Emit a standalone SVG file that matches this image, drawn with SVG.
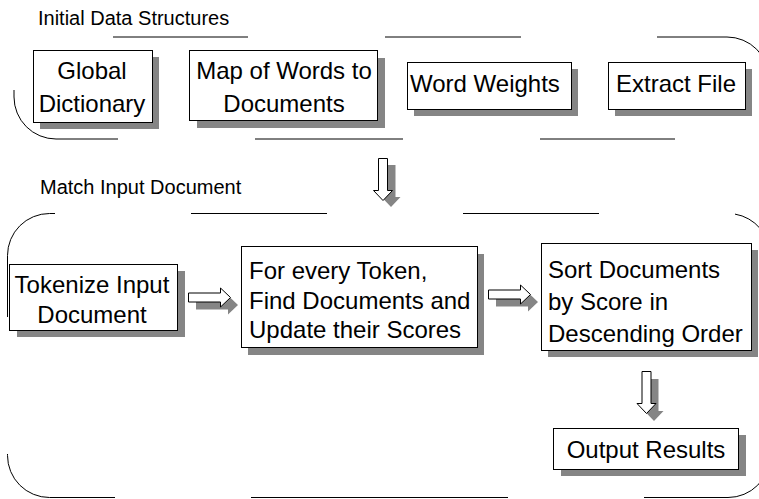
<svg xmlns="http://www.w3.org/2000/svg" xmlns:xlink="http://www.w3.org/1999/xlink" width="759" height="499" viewBox="0 0 759 499">
<defs>
<style>
text{font-family:"Liberation Sans",Arial,Helvetica,sans-serif;fill:#000}
.lbl{font-size:20px}
.nt{font-size:24px}
.box{fill:#fff;stroke:#000;stroke-width:1}
.sh{fill:#858585;stroke:none}
.cont{fill:none;stroke:#000;stroke-width:1}
.arr{fill:#fff;stroke:#000;stroke-width:1}
</style>
<path id="ar" d="M0 -4.5 H32 V-9.5 L42 0 L32 9.5 V4.5 H0 Z"/>
<path id="ad" d="M4.5 0 V32 H9.5 L0 42 L-9.5 32 H-4.5 V0 Z"/>
</defs>
<rect width="759" height="499" fill="#fff"/>

<g id="container-initial" class="cont">
<path d="M113 37 H248"/>
<path d="M385 37 H521"/>
<path d="M657 37 H727 A42 42 0 0 1 769 79"/>
<path d="M14 90 V97 A42 42 0 0 0 56 139 H118"/>
<path d="M255 139 H403"/>
<path d="M540 139 H675"/>
</g>
<text class="lbl" x="38" y="25">Initial Data Structures</text>

<g id="container-match" class="cont">
<path d="M7.5 317 V255.5 A42 42 0 0 1 49.5 213.5 H55"/>
<path d="M191 213.5 H327"/>
<path d="M463 213.5 H599"/>
<path d="M735 214.1 A42 42 0 0 1 770 255.5"/>
<path d="M115 497.5 H49.5 A42 42 0 0 1 7.5 455.5 V454"/>
<path d="M251 497.5 H508"/>
<path d="M644 497.5 H728 A42 42 0 0 0 770 455.5"/>
</g>
<text class="lbl" x="40" y="194">Match Input Document</text>

<g id="global-dictionary">
<rect class="sh" x="40" y="57" width="119" height="72"/>
<rect class="box" x="33.5" y="50.5" width="119" height="72"/>
<text class="nt" x="92" y="79" text-anchor="middle">Global</text>
<text class="nt" x="92" y="112" text-anchor="middle">Dictionary</text>
</g>

<g id="map-words-documents">
<rect class="sh" x="197" y="58" width="188" height="70"/>
<rect class="box" x="189.5" y="50.5" width="188" height="70"/>
<text class="nt" x="284" y="79" text-anchor="middle">Map of Words to</text>
<text class="nt" x="284" y="112" text-anchor="middle">Documents</text>
</g>

<g id="word-weights">
<rect class="sh" x="414" y="69" width="164" height="47"/>
<rect class="box" x="407.5" y="62.5" width="164" height="47"/>
<text class="nt" x="410" y="92">Word Weights</text>
</g>

<g id="extract-file">
<rect class="sh" x="615" y="69" width="137" height="47"/>
<rect class="box" x="608.5" y="62.5" width="137" height="47"/>
<text class="nt" x="676" y="92" text-anchor="middle">Extract File</text>
</g>

<g id="tokenize">
<rect class="sh" x="17" y="271" width="168" height="66"/>
<rect class="box" x="9.5" y="264.5" width="168" height="66"/>
<text class="nt" x="92" y="293" text-anchor="middle">Tokenize Input</text>
<text class="nt" x="92" y="323" text-anchor="middle">Document</text>
</g>

<g id="find-documents">
<rect class="sh" x="248" y="254" width="236" height="101"/>
<rect class="box" x="241.5" y="246.5" width="236" height="101"/>
<text class="nt" x="249" y="279">For every Token,</text>
<text class="nt" x="249" y="309">Find Documents and</text>
<text class="nt" x="249" y="338">Update their Scores</text>
</g>

<g id="sort-documents">
<rect class="sh" x="548" y="250" width="210" height="107"/>
<rect class="box" x="541.5" y="243.5" width="210" height="107"/>
<text class="nt" x="548" y="278">Sort Documents</text>
<text class="nt" x="548" y="310">by Score in</text>
<text class="nt" x="548" y="342">Descending Order</text>
</g>

<g id="output-results">
<rect class="sh" x="561" y="435" width="185" height="41"/>
<rect class="box" x="553.5" y="428.5" width="185" height="41"/>
<text class="nt" x="646" y="458" text-anchor="middle">Output Results</text>
</g>

<g id="connectors">
<use xlink:href="#ad" href="#ad" class="sh" transform="translate(391,165)"/>
<use xlink:href="#ad" href="#ad" class="arr" transform="translate(383,158.5)"/>
<use xlink:href="#ar" href="#ar" class="sh" transform="translate(196,305)"/>
<use xlink:href="#ar" href="#ar" class="arr" transform="translate(188.5,297.5)"/>
<use xlink:href="#ar" href="#ar" class="sh" transform="translate(496,302)"/>
<use xlink:href="#ar" href="#ar" class="arr" transform="translate(488.5,294.5)"/>
<use xlink:href="#ad" href="#ad" class="sh" transform="translate(654,379)"/>
<use xlink:href="#ad" href="#ad" class="arr" transform="translate(646.5,371.5)"/>
</g>
</svg>
